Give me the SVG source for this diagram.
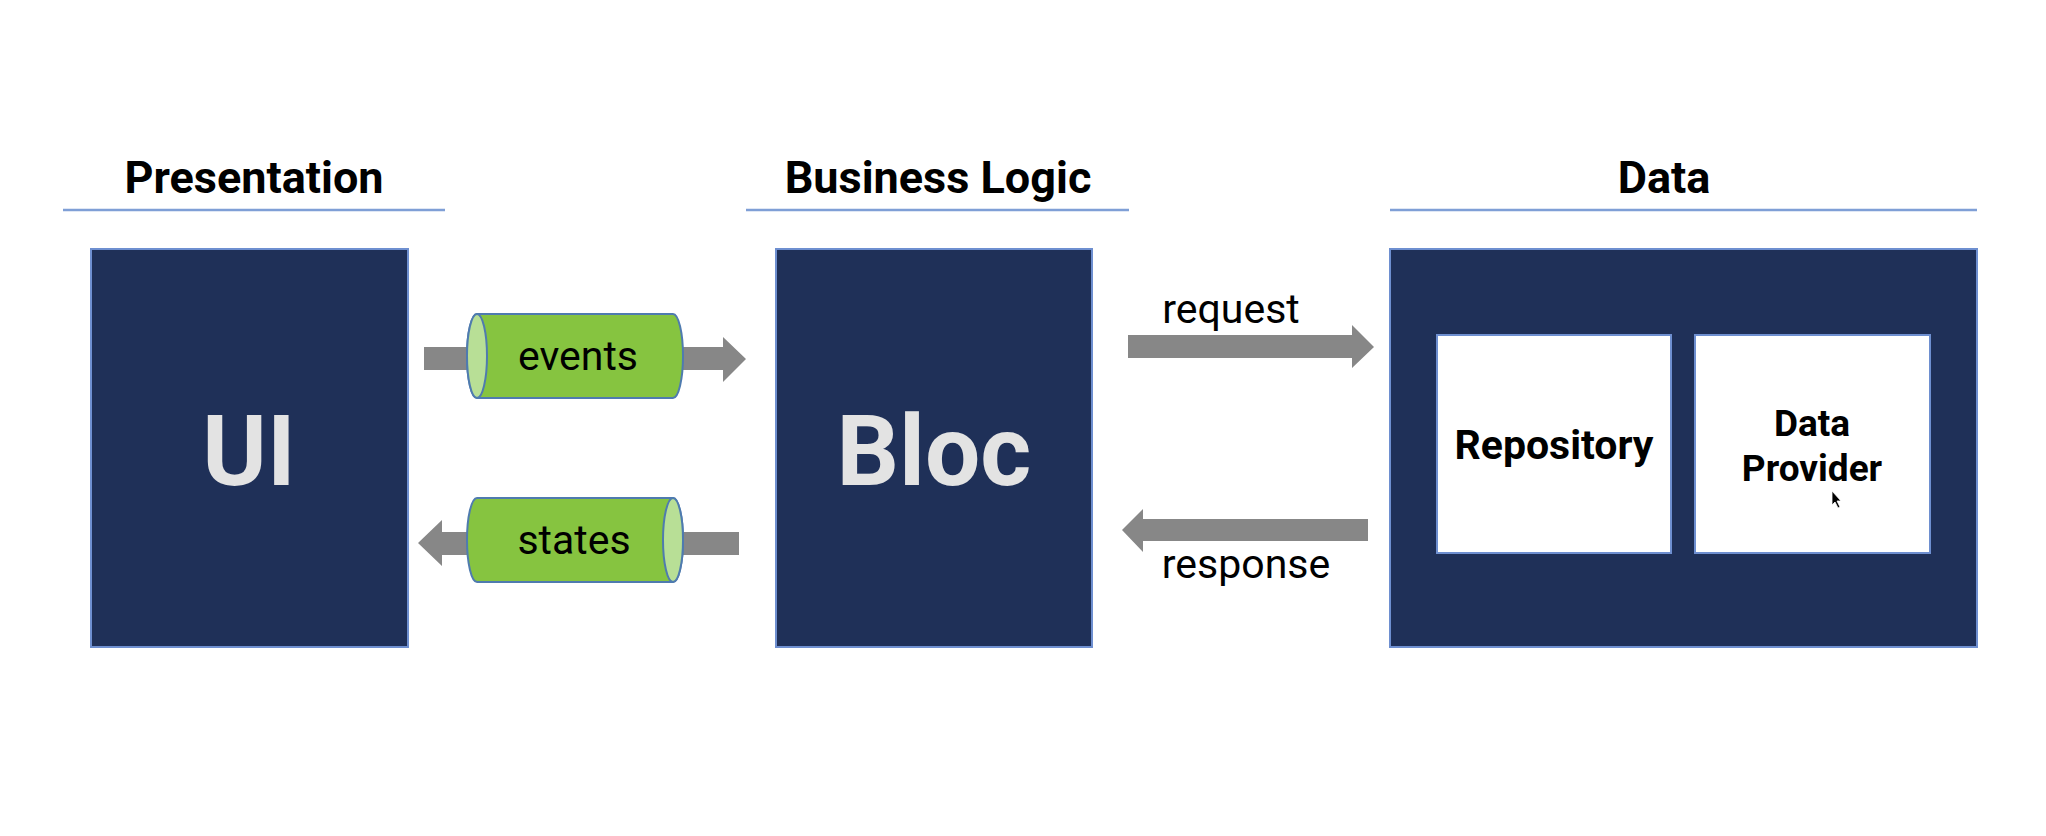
<svg xmlns="http://www.w3.org/2000/svg" width="2046" height="836" viewBox="0 0 2046 836">
<style>
.hdr{font-family:Roboto,"Liberation Sans",sans-serif;font-weight:700;font-size:45px;fill:#000;text-anchor:middle}
.rule{stroke:#7F9FD6;stroke-width:2.5}
.box{fill:#1F3058;stroke:#6E8FD0;stroke-width:2}
.inner{fill:#fff;stroke:#6E8FD0;stroke-width:2}
.big{font-family:Roboto,"Liberation Sans",sans-serif;font-weight:700;font-size:98px;fill:#E3E3E3;text-anchor:middle}
.lbl{font-family:Roboto,"Liberation Sans",sans-serif;font-weight:700;font-size:41px;fill:#000;text-anchor:middle}
.lbl2{font-family:Roboto,"Liberation Sans",sans-serif;font-weight:700;font-size:37px;fill:#000;text-anchor:middle}
.arrow{fill:#878787}
.cyl{fill:#86C440;stroke:#4F7BAF;stroke-width:2}
.face{fill:#B8DF96;stroke:#4F7BAF;stroke-width:2}
.txt{font-family:Roboto,"Liberation Sans",sans-serif;font-size:41px;fill:#000;text-anchor:middle}
</style>
<rect width="2046" height="836" fill="#fff"/>
<g id="headers">
<text class="hdr" x="254" y="193">Presentation</text>
<line class="rule" x1="63" y1="210" x2="445" y2="210"/>
<text class="hdr" x="938" y="193">Business Logic</text>
<line class="rule" x1="746" y1="210" x2="1129" y2="210"/>
<text class="hdr" x="1664" y="193">Data</text>
<line class="rule" x1="1390" y1="210" x2="1977" y2="210"/>
</g>
<g id="ui">
<rect class="box" x="91" y="249" width="317" height="398"/>
<text class="big" x="249" y="485">UI</text>
</g>
<g id="bloc">
<rect class="box" x="776" y="249" width="316" height="398"/>
<text class="big" x="934" y="485">Bloc</text>
</g>
<g id="data">
<rect class="box" x="1390" y="249" width="587" height="398"/>
</g>
<g id="repository">
<rect class="inner" x="1437" y="335" width="234" height="218"/>
<text class="lbl" x="1554" y="459">Repository</text>
</g>
<g id="data-provider">
<rect class="inner" x="1695" y="335" width="235" height="218"/>
<text class="lbl2" x="1812" y="436">Data</text>
<text class="lbl2" x="1812" y="481">Provider</text>
<path d="M1832,491 L1832,505 L1835,502 L1838,508 L1840,507 L1837,501 L1841,501 Z" fill="#000" stroke="#fff" stroke-width="0.8"/>
</g>
<g id="connectors">
<rect class="arrow" x="424" y="347" width="50" height="23"/>
<path class="arrow" d="M680,347 L723,347 L723,337 L746,359 L723,382 L723,370 L680,370 Z"/>
<g id="events">
<path class="cyl" d="M477,314 L673,314 A10,42 0 0 1 673,398 L477,398 A10,42 0 0 1 477,314 Z"/>
<ellipse class="face" cx="477" cy="356" rx="10" ry="42"/>
<text class="txt" x="578" y="370">events</text>
</g>
<path class="arrow" d="M480,532 L442,532 L442,520 L418,543 L442,566 L442,555 L480,555 Z"/>
<rect class="arrow" x="675" y="532" width="64" height="23"/>
<g id="states">
<path class="cyl" d="M477,498 L673,498 A10,42 0 0 1 673,582 L477,582 A10,42 0 0 1 477,498 Z"/>
<ellipse class="face" cx="673" cy="540" rx="10" ry="42"/>
<text class="txt" x="574" y="554">states</text>
</g>
<path class="arrow" d="M1128,335 L1352,335 L1352,325 L1374,347 L1352,368 L1352,358 L1128,358 Z"/>
<text class="txt" x="1231" y="323">request</text>
<path class="arrow" d="M1368,519 L1143,519 L1143,509 L1122,530 L1143,552 L1143,541 L1368,541 Z"/>
<text class="txt" x="1246" y="578">response</text>
</g>
</svg>
